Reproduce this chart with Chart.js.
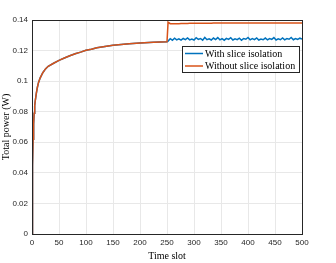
<!DOCTYPE html>
<html>
<head>
<meta charset="utf-8">
<style>
  html, body { margin: 0; padding: 0; background: #fff; }
  #wrap { width: 336px; height: 263px; }
</style>
</head>
<body>
<div id="wrap"><canvas id="power_chart"></canvas></div>
<script src="https://cdn.jsdelivr.net/npm/chart.js"></script>
<script>
// time slots and power (W)
const slotsBefore = [0, 1, 2, 3, 4, 5, 6, 8, 10, 12, 15, 20, 25, 30, 40, 50, 60, 70, 80, 90, 100, 110, 120, 135, 150, 165, 180, 200, 225, 250];
const powerBefore = [0, 0.045, 0.062, 0.072, 0.079, 0.084, 0.087, 0.092, 0.096, 0.099, 0.102, 0.1055, 0.108, 0.1097, 0.1117, 0.1136, 0.1151, 0.1166, 0.1179, 0.119, 0.1202, 0.1209, 0.1218, 0.1226, 0.1235, 0.1239, 0.1244, 0.1249, 0.1254, 0.1258];

const slotsAfter = [252, 256, 260, 264, 268, 272, 276, 280, 284, 288, 292, 296, 300, 304, 308, 312, 316, 320, 324, 328, 332, 336, 340, 344, 348, 352, 356, 360, 364, 368, 372, 376, 380, 384, 388, 392, 396, 400, 404, 408, 412, 416, 420, 424, 428, 432, 436, 440, 444, 448, 452, 456, 460, 464, 468, 472, 476, 480, 484, 488, 492, 496, 500];
const withIsolation = [0.1262, 0.1278, 0.1268, 0.1281, 0.127, 0.1277, 0.1268, 0.1279, 0.1272, 0.1283, 0.127, 0.1276, 0.1269, 0.1284, 0.1273, 0.1279, 0.1268, 0.1286, 0.1271, 0.1277, 0.1269, 0.1282, 0.1272, 0.1285, 0.127, 0.1278, 0.1268, 0.128, 0.1273, 0.1284, 0.1269, 0.1277, 0.1271, 0.1281, 0.1268, 0.1279, 0.1274, 0.1286, 0.127, 0.1278, 0.1272, 0.1283, 0.1269, 0.1276, 0.1271, 0.1282, 0.127, 0.1279, 0.1273, 0.1285, 0.1269, 0.1277, 0.1271, 0.1283, 0.127, 0.1278, 0.1274, 0.1286, 0.1271, 0.1279, 0.1273, 0.1281, 0.1276];
const withoutIsolation = [0.1386, 0.1376, 0.1375, 0.1376, 0.1376, 0.1376, 0.1377, 0.1377, 0.1377, 0.1377, 0.1378, 0.1378, 0.1378, 0.1378, 0.1378, 0.1379, 0.1379, 0.1379, 0.1379, 0.1379, 0.1379, 0.138, 0.138, 0.138, 0.138, 0.138, 0.138, 0.138, 0.138, 0.138, 0.138, 0.138, 0.138, 0.138, 0.138, 0.138, 0.138, 0.138, 0.138, 0.138, 0.138, 0.138, 0.138, 0.138, 0.138, 0.138, 0.138, 0.138, 0.138, 0.138, 0.138, 0.138, 0.138, 0.138, 0.138, 0.138, 0.138, 0.138, 0.138, 0.138, 0.138, 0.138, 0.138];

const xTicks = [0, 50, 100, 150, 200, 250, 300, 350, 400, 450, 500];
const yTicks = [0, 0.02, 0.04, 0.06, 0.08, 0.1, 0.12, 0.14];

const seriesNames = ["With slice isolation", "Without slice isolation"];
const blue = "#0072BD";
const orange = "#D95319";

function toPoints(xs, ys) {
    return xs.map((x, i) => ({ x: x, y: ys[i] }));
}

const bluePoints = toPoints(slotsBefore, powerBefore).concat(toPoints(slotsAfter, withIsolation));
const orangePoints = toPoints(slotsBefore, powerBefore).concat(toPoints(slotsAfter, withoutIsolation));

// box round the axes and legend inside, MATLAB style
const framePlugin = {
    id: "frame",
    afterDraw(chart) {
        const ctx = chart.ctx;
        const a = chart.chartArea;
        ctx.save();
        ctx.strokeStyle = "#262626";
        ctx.lineWidth = 1;
        ctx.strokeRect(Math.round(a.left) + 0.5, Math.round(a.top) + 0.5,
            Math.round(a.right - a.left), Math.round(a.bottom - a.top));

        // legend
        const bx = 182.5, by = 46.5, bw = 117, bh = 26;
        ctx.fillStyle = "#fff";
        ctx.fillRect(bx, by, bw, bh);
        ctx.strokeStyle = "#262626";
        ctx.strokeRect(bx, by, bw, bh);
        ctx.font = "10px 'Liberation Serif', serif";
        ctx.textBaseline = "middle";
        const colors = [blue, orange];
        const rows = [53.5, 66];
        for (let i = 0; i < 2; i++) {
            ctx.strokeStyle = colors[i];
            ctx.lineWidth = 1.5;
            ctx.beginPath();
            ctx.moveTo(185, rows[i]);
            ctx.lineTo(203, rows[i]);
            ctx.stroke();
            ctx.fillStyle = "#000";
            ctx.fillText(seriesNames[i], 205, rows[i] + 0.5);
        }
        ctx.restore();
    }
};

const chart = new Chart(document.getElementById("power_chart"), {
    type: "line",
    data: {
        datasets: [{
            label: seriesNames[0],
            data: bluePoints,
            borderColor: blue,
            borderWidth: 1.5,
            pointRadius: 0,
            tension: 0,
            order: 1
        }, {
            label: seriesNames[1],
            data: orangePoints,
            borderColor: orange,
            borderWidth: 1.5,
            pointRadius: 0,
            tension: 0,
            order: 0
        }]
    },
    options: {
        responsive: true,
        maintainAspectRatio: false,
        animation: false,
        layout: { padding: { left: 0, right: 34, top: 20, bottom: 0 } },
        plugins: {
            legend: { display: false },
            tooltip: { enabled: false }
        },
        scales: {
            x: {
                type: "linear",
                min: 0,
                max: 500,
                afterFit(scale) { scale.height = 29; },
                afterBuildTicks(scale) { scale.ticks = xTicks.map(v => ({ value: v })); },
                grid: { color: "#e8e8e8", drawTicks: false },
                border: { display: false },
                ticks: {
                    padding: 4,
                    maxRotation: 0,
                    color: "#262626",
                    font: { family: "'Liberation Sans', Arial, sans-serif", size: 8 }
                },
                title: {
                    display: true,
                    text: "Time slot",
                    color: "#000",
                    padding: { top: 0, bottom: 1 },
                    font: { family: "'Liberation Serif', serif", size: 10 }
                }
            },
            y: {
                min: 0,
                max: 0.14,
                afterFit(scale) { scale.width = 32; },
                afterBuildTicks(scale) { scale.ticks = yTicks.map(v => ({ value: v })); },
                grid: { color: "#e8e8e8", drawTicks: false },
                border: { display: false },
                ticks: {
                    padding: 4,
                    color: "#262626",
                    font: { family: "'Liberation Sans', Arial, sans-serif", size: 8 },
                    callback: (v) => String(Math.round(v * 100) / 100)
                },
                title: {
                    display: true,
                    text: "Total power (W)",
                    color: "#000",
                    padding: { top: 0, bottom: 0 },
                    font: { family: "'Liberation Serif', serif", size: 10 }
                }
            }
        }
    },
    plugins: [framePlugin]
});
</script>
</body>
</html>
